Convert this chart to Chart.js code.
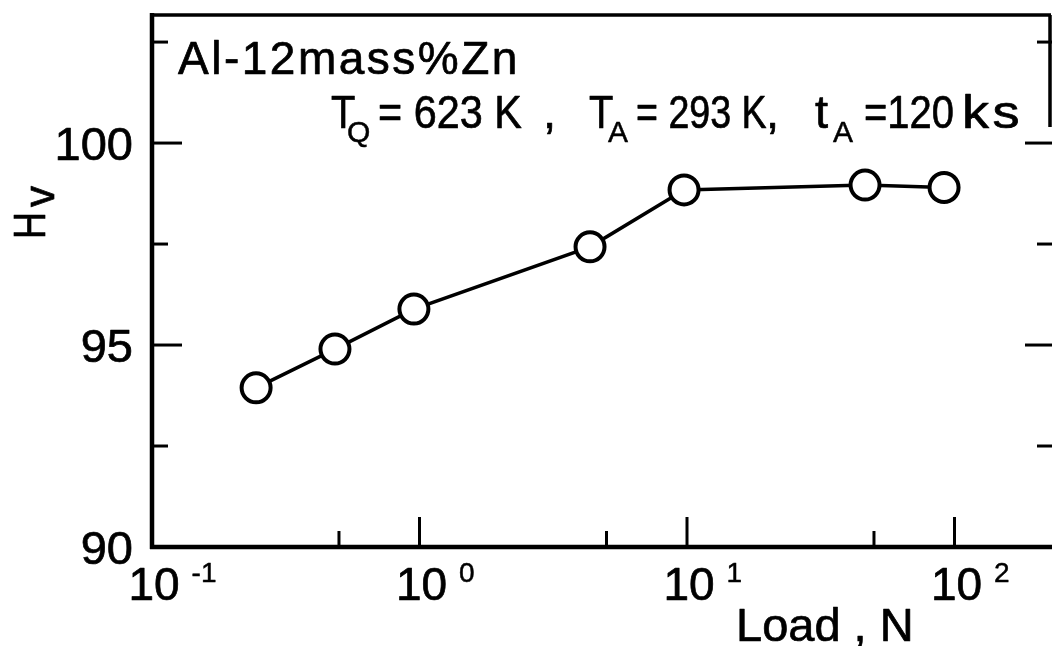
<!DOCTYPE html>
<html><head><meta charset="utf-8">
<script src="https://cdn.jsdelivr.net/npm/chart.js@4/dist/chart.umd.min.js"></script>
<style>html,body{margin:0;padding:0;background:#fff;overflow:hidden}#wrap{width:1052px;height:646px}</style>
</head><body><div id="wrap"><canvas id="c" width="1052" height="646"></canvas></div>
<script>
// ---- data ----
const loadN = [0.245, 0.483, 0.953, 4.34, 9.75, 46.3, 91.4];
const hardnessHv = [93.94, 94.90, 95.89, 97.43, 98.84, 98.96, 98.90];
const yMajorTicks = [90, 95, 100];
const yTickLabels = ['90', '95', '100'];
const yMinorTicks = [92.5, 97.5, 102.5];
const xMajorTicks = [0.1, 1, 10, 100];
const xTickExponents = ['-1', '0', '1', '2'];
const xMinorTicks = [0.5, 5, 50];
const xAxisTitle = 'Load , N';
const alloyLabel = 'Al-12mass%Zn';

const FONT = '"Liberation Sans", Arial, sans-serif';
function txt(ctx, s, x, y, size, o) {
  o = o || {};
  ctx.save();
  ctx.font = size + 'px ' + FONT;
  ctx.fillStyle = '#000';
  ctx.strokeStyle = '#000';
  ctx.lineWidth = size > 35 ? 0.7 : 0.5;
  ctx.lineJoin = 'round';
  ctx.textBaseline = 'alphabetic';
  ctx.letterSpacing = (o.ls || 0) + 'px';
  const sx = o.sx || 1;
  const w = ctx.measureText(s).width * sx;
  let left = x;
  if (o.align === 'center') left = x - w / 2;
  if (o.align === 'right') left = x - w;
  ctx.translate(left, y);
  ctx.scale(sx, 1);
  ctx.textAlign = 'left';
  ctx.fillText(s, 0, 0);
  ctx.strokeText(s, 0, 0);
  ctx.restore();
  return left + w;
}

const framePlugin = {
  id: 'frame',
  beforeDatasetsDraw(chart) {
    const { ctx, chartArea: a, scales: { x, y } } = chart;
    const W = chart.width;
    const line = (x1, y1, x2, y2) => { ctx.beginPath(); ctx.moveTo(x1, y1); ctx.lineTo(x2, y2); ctx.stroke(); };
    ctx.save();
    ctx.strokeStyle = '#000';
    ctx.lineWidth = 4.5;
    line(a.left, a.top - 2, a.left, a.bottom + 2);
    line(a.left - 2, a.bottom, W, a.bottom);
    ctx.lineWidth = 3.5;
    line(a.left, a.top, a.right + 1, a.top);
    line(a.right, a.top, a.right, a.top + 112);
    ctx.lineWidth = 3;
    yMajorTicks.forEach(v => {
      const p = y.getPixelForValue(v);
      if (v === y.min) return;
      line(a.left, p, a.left + 30, p);
      line(W, p, W - 27, p);
    });
    yMinorTicks.forEach(v => {
      const p = y.getPixelForValue(v);
      line(a.left, p, a.left + 16, p);
      line(W, p, W - 15, p);
    });
    xMajorTicks.forEach(v => {
      if (v === x.min) return;
      const p = x.getPixelForValue(v);
      line(p, a.bottom, p, a.bottom - 30);
    });
    xMinorTicks.forEach(v => {
      const p = x.getPixelForValue(v);
      line(p, a.bottom, p, a.bottom - 16);
    });
    ctx.restore();
  },
  afterDraw(chart) {
    const { ctx, chartArea: a, scales: { x, y } } = chart;
    yMajorTicks.forEach((v, i) => {
      const p = y.getPixelForValue(v);
      txt(ctx, yTickLabels[i], 133, p + 17, 47, { align: 'right' });
    });
    xMajorTicks.forEach((v, i) => {
      const p = x.getPixelForValue(v);
      const end = txt(ctx, '10', p + 2, a.bottom + 53, 46, { align: 'center' });
      txt(ctx, xTickExponents[i], end + 12, a.bottom + 35, 28);
    });
    txt(ctx, xAxisTitle, 736, 641, 47);
    ctx.save();
    ctx.translate(45, 239);
    ctx.rotate(-Math.PI / 2);
    txt(ctx, 'H', 0, 0, 44, { sx: 0.85 });
    txt(ctx, 'v', 32, 9, 42);
    ctx.restore();
    txt(ctx, alloyLabel, 178, 74, 46, { ls: 2.5 });
    const B = 128, S = 142;
    txt(ctx, 'T', 331, B, 47, { sx: 0.85 });
    txt(ctx, 'Q', 347, S, 30);
    txt(ctx, '= 623 K', 378, B, 47, { sx: 0.88 });
    txt(ctx, ',', 543, B, 47);
    txt(ctx, 'T', 589, B, 47, { sx: 0.85 });
    txt(ctx, 'A', 608, S, 30);
    txt(ctx, '= 293 K', 636, B, 47, { sx: 0.8 });
    txt(ctx, ',', 766, B, 47);
    txt(ctx, 't', 815, B, 47);
    txt(ctx, 'A', 833, S, 30);
    txt(ctx, '=120', 864, B, 47, { sx: 0.85 });
    txt(ctx, 'ks', 962, B, 47, { sx: 1.15, ls: 3 });
  }
};

new Chart(document.getElementById('c'), {
  type: 'line',
  data: {
    datasets: [{
      data: loadN.map((v, i) => ({ x: v, y: hardnessHv[i] })),
      borderColor: '#000',
      borderWidth: 3.5,
      pointRadius: 14.5,
      pointBorderWidth: 4,
      pointBackgroundColor: '#fff',
      pointBorderColor: '#000',
      tension: 0,
      clip: false
    }]
  },
  options: {
    responsive: false,
    devicePixelRatio: 1,
    animation: false,
    layout: { autoPadding: false, padding: { left: 152, top: 15, right: 2, bottom: 99 } },
    plugins: { legend: { display: false }, tooltip: { enabled: false }, title: { display: false } },
    scales: {
      x: { type: 'logarithmic', min: 0.1, max: 227.5, display: false },
      y: { type: 'linear', min: 90, max: 103.17, display: false }
    }
  },
  plugins: [framePlugin]
});
</script>
</body></html>
